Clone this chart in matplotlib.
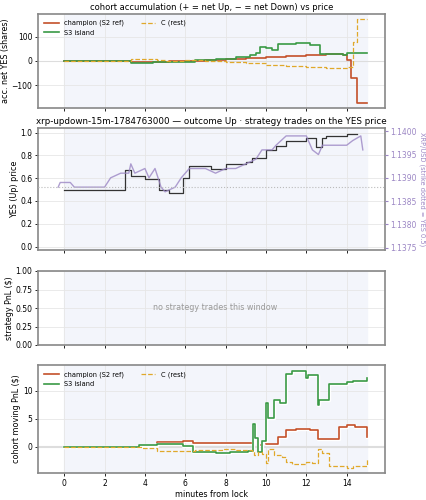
import matplotlib
matplotlib.use("Agg")
import matplotlib.pyplot as plt
import matplotlib.patheffects as pe

CH, S3, CC, PUR = "#c4502a", "#3a9a45", "#e0a82a", "#9b86c4"

# panel 1: accumulated net YES
acc_ch_t = [0, 3.3, 4.5, 5.2, 6.0, 7.0, 8.0, 9.0, 10.0, 11.0, 12.0, 13.0, 13.8, 14.0, 14.2, 14.5, 15.0]
acc_ch_v = [0, -5, -4, -2, 0, 3, 7, 12, 15, 20, 25, 28, 25, 5, -70, -175, -175]
acc_s3_t = [0, 3.3, 4.4, 6.0, 6.5, 7.5, 8.5, 9.2, 9.5, 9.7, 10.0, 10.3, 10.6, 11.5, 12.2, 12.7, 13.8, 14.0, 15.0]
acc_s3_v = [0, -10, -5, -5, 5, 10, 15, 25, 35, 60, 55, 45, 70, 75, 65, 30, 25, 35, 35]
acc_c_t = [0, 3.3, 4.6, 5.0, 6.0, 7.0, 8.0, 9.0, 10.0, 11.0, 12.0, 13.0, 14.0, 14.3, 14.5, 15.0]
acc_c_v = [0, 8, 3, 0, 5, 0, -5, -10, -15, -20, -25, -28, -25, 80, 175, 175]

# panel 2: YES price and XRP/USD
yes_t = [0, 3.0, 3.3, 4.0, 4.7, 5.2, 5.9, 6.2, 7.3, 8.0, 9.0, 9.3, 10.0, 10.5, 11.0, 12.0, 12.5, 12.8, 13.0, 14.0, 14.5]
yes_v = [0.5, 0.67, 0.62, 0.59, 0.50, 0.47, 0.60, 0.71, 0.68, 0.72, 0.74, 0.78, 0.85, 0.88, 0.93, 0.95, 0.87, 0.95, 0.97, 0.99, 0.99]
xrp_t = [-0.3, -0.2, 0.3, 0.5, 1.0, 1.5, 2.0, 2.3, 2.8, 3.2, 3.3, 3.5, 4.0, 4.2, 4.5, 4.8, 5.0, 5.5, 5.8, 6.2, 7.0, 7.5, 8.0, 8.5, 9.0, 9.5, 9.8, 10.3, 10.5, 11.0, 12.0, 12.3, 12.6, 12.8, 13.5, 14.0, 14.3, 14.7, 14.8]
xrp_v = [1.1388, 1.1389, 1.1389, 1.1388, 1.1388, 1.1388, 1.1388, 1.1390, 1.1391, 1.1391, 1.1393, 1.1391, 1.1392, 1.1390, 1.1392, 1.1388, 1.1387, 1.1388, 1.1390, 1.1392, 1.1392, 1.1391, 1.1392, 1.1392, 1.1393, 1.1394, 1.1396, 1.1396, 1.1397, 1.1399, 1.1399, 1.1396, 1.1395, 1.1397, 1.1397, 1.1397, 1.1398, 1.1399, 1.1396]
strike = 1.1388

# panel 4: cohort moving PnL
pnl_ch_t = [0, 3.7, 4.6, 5.9, 6.4, 8.0, 9.3, 9.4, 9.6, 9.8, 10.0, 10.6, 11.0, 11.5, 12.2, 12.6, 13.6, 14.0, 14.4, 15.0]
pnl_ch_v = [0, 0.2, 0.8, 1.1, 0.6, 0.7, 0.7, 1.5, 0.3, 1.0, 0.5, 1.8, 3.0, 3.1, 2.9, 1.4, 3.5, 3.8, 3.5, 1.8]
pnl_s3_t = [0, 3.7, 4.6, 5.9, 6.4, 7.5, 8.2, 9.1, 9.35, 9.45, 9.6, 9.8, 10.0, 10.1, 10.4, 10.7, 11.0, 11.3, 12.0, 12.1, 12.6, 12.65, 13.1, 14.0, 14.3, 15.0]
pnl_s3_v = [0, 0.3, 0.5, 0.2, -1.0, -1.1, -0.9, -0.7, 4.0, 1.5, -1.0, 1.0, 7.8, 5.2, 8.4, 7.8, 13.0, 13.5, 12.2, 12.8, 7.5, 8.4, 11.2, 11.5, 11.7, 12.3]
pnl_c_t = [0, 3.8, 4.6, 6.0, 6.5, 7.8, 8.5, 9.3, 9.4, 9.6, 9.8, 10.0, 10.1, 10.4, 10.8, 11.0, 11.3, 12.0, 12.3, 12.6, 12.8, 13.1, 14.0, 14.3, 15.0]
pnl_c_v = [0, -0.2, -0.7, -0.8, -0.6, -0.4, -0.6, -0.7, -1.5, -1.0, -1.3, -3.0, -0.5, -1.5, -1.8, -2.8, -3.1, -2.8, -3.0, -0.5, -1.2, -3.4, -3.8, -3.4, -2.0]

W, H = 427, 500
fig = plt.figure(figsize=(W/100, H/100), dpi=100)
def ax_at(l, t, r, b):
    return fig.add_axes([l/W, 1-b/H, (r-l)/W, (b-t)/H])

axes = [ax_at(38, 14, 385, 108), ax_at(38, 128, 385, 250), ax_at(38, 271, 385, 345), ax_at(38, 365, 385, 473)]
for a in axes:
    a.set_xlim(-1.3, 15.9)
    a.axvspan(0, 15, color="#f3f5fb", zorder=0)
    a.grid(True, color="#e6e6e6", lw=0.6)
    a.set_axisbelow(True)
    a.tick_params(labelsize=5.5, length=2.5, width=0.6, pad=1.5)
    for s in a.spines.values():
        s.set_color("#888888"); s.set_linewidth(1.2)
    a.set_xticks([0, 2, 4, 6, 8, 10, 12, 14])
    if a is not axes[3]:
        a.tick_params(labelbottom=False)

fs = 5.8
a = axes[0]
a.axhline(0, color="#dddddd", lw=0.8)
a.step(acc_ch_t, acc_ch_v, where="post", color=CH, lw=1.2, label="champion (S2 ref)")
a.step(acc_s3_t, acc_s3_v, where="post", color=S3, lw=1.2, label="S3 island")
a.step(acc_c_t, acc_c_v, where="post", color=CC, lw=0.9, ls="--", label="C (rest)")
a.set_ylim(-195, 195)
a.set_yticks([-100, 0, 100])
a.set_ylabel("acc. net YES (shares)", fontsize=fs, labelpad=1)
a.set_title("cohort accumulation (+ = net Up, − = net Down) vs price", fontsize=6, pad=3)
a.legend(loc="upper left", ncol=2, fontsize=4.8, frameon=False, columnspacing=2.5, handlelength=2.2)

a = axes[1]
a.step(yes_t, yes_v, where="post", color="#333333", lw=0.9)
a.set_ylim(-0.03, 1.04)
a.set_ylabel("YES (Up) price", fontsize=fs, labelpad=1)
a.set_title("xrp-updown-15m-1784763000 — outcome Up · strategy trades on the YES price", fontsize=6.3, pad=3)
r = a.twinx()
r.set_xlim(-1.3, 15.9)
r.plot(xrp_t, xrp_v, color=PUR, lw=1.0, alpha=0.8)
r.axhline(strike, color="#bbbbbb", lw=0.8, ls=":")
r.set_ylim(1.13745, 1.14007)
r.set_yticks([1.1375, 1.1380, 1.1385, 1.1390, 1.1395, 1.1400])
r.set_yticklabels(["1.1375", "1.1380", "1.1385", "1.1390", "1.1395", "1.1400"])
r.tick_params(labelsize=5.5, colors=PUR, length=2.5, pad=1.5)
r.set_ylabel("XRP/USD (strike dotted = YES 0.5)", fontsize=4.8, color=PUR, rotation=270, labelpad=6)
for s in r.spines.values():
    s.set_visible(False)

a = axes[2]
a.set_ylim(0, 1)
a.set_ylabel("strategy PnL ($)", fontsize=fs, labelpad=1)
a.text(7.5, 0.5, "no strategy trades this window", ha="center", va="center", fontsize=5.8, color="#999999")

a = axes[3]
st = [pe.Stroke(linewidth=2.4, foreground="white"), pe.Normal()]
a.axhline(0, color="#dddddd", lw=1.5)
a.step(pnl_ch_t, pnl_ch_v, where="post", color=CH, lw=1.2, label="champion (S2 ref)", path_effects=st)
a.step(pnl_s3_t, pnl_s3_v, where="post", color=S3, lw=1.2, label="S3 island", path_effects=st)
a.step(pnl_c_t, pnl_c_v, where="post", color=CC, lw=0.9, ls="--", label="C (rest)")
a.set_ylim(-4.7, 14.6)
a.set_yticks([0, 5, 10])
a.set_ylabel("cohort moving PnL ($)", fontsize=fs, labelpad=1)
a.set_xlabel("minutes from lock", fontsize=fs, labelpad=2)
a.legend(loc="upper left", ncol=2, fontsize=4.8, frameon=False, columnspacing=2.5, handlelength=2.2)

fig.savefig("out.png", dpi=100)
